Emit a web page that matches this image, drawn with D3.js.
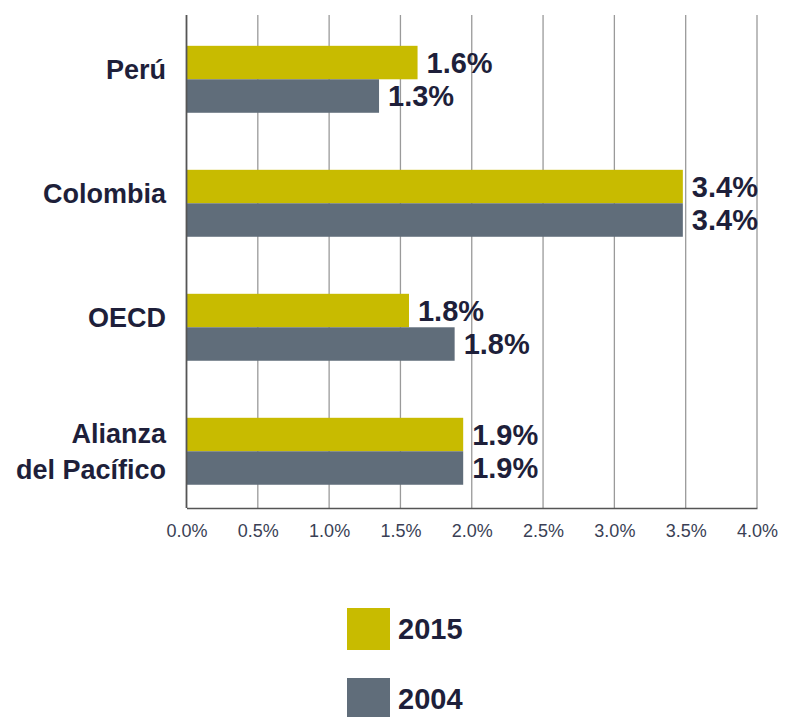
<!DOCTYPE html>
<html>
<head>
<meta charset="utf-8">
<script src="https://cdn.jsdelivr.net/npm/d3@7"></script>
<style>
  body { margin: 0; background: #fff; }
  text { font-family: "Liberation Sans", Arial, sans-serif; }
</style>
</head>
<body>
<div id="chart"></div>
<script>
const WIDTH = 788;
const HEIGHT = 717;

// data
const categories = ["Perú", "Colombia", "OECD", "Alianza del Pacífico"];
const categoryLines = [["Perú"], ["Colombia"], ["OECD"], ["Alianza", "del Pacífico"]];
const series = ["2015", "2004"];
const values2015 = [1.62, 3.48, 1.56, 1.94];
const values2004 = [1.35, 3.48, 1.88, 1.94];
const labels2015 = ["1.6%", "3.4%", "1.8%", "1.9%"];
const labels2004 = ["1.3%", "3.4%", "1.8%", "1.9%"];
const tickValues = [0, 0.5, 1, 1.5, 2, 2.5, 3, 3.5, 4];
const colors = { "2015": "#c8bb00", "2004": "#606d7a" };

const rows = categories.map((c, i) => ({
    cat: c,
    lines: categoryLines[i],
    bars: [
        { key: "2015", value: values2015[i], label: labels2015[i] },
        { key: "2004", value: values2004[i], label: labels2004[i] }
    ]
}));

const svg = d3.select("#chart").append("svg")
    .attr("width", WIDTH)
    .attr("height", HEIGHT);

const plotTop = 15, plotBottom = 508, plotLeft = 186.5, plotRight = 757;

const x = d3.scaleLinear().domain([0, 4]).range([plotLeft, plotRight]);
const y = d3.scaleBand().domain(categories).range([plotTop, plotBottom])
    .paddingInner(0.46).paddingOuter(0.218).align(0.57);
const ySub = d3.scaleBand().domain(series).range([0, y.bandwidth()]);

// gridlines
svg.append("g")
    .selectAll("line")
    .data(tickValues.slice(1))
    .enter().append("line")
    .attr("x1", d => x(d)).attr("x2", d => x(d))
    .attr("y1", plotTop).attr("y2", plotBottom)
    .attr("stroke", "#9a9a9a")
    .attr("stroke-width", 1.3);

// bottom axis
const xAxis = svg.append("g")
    .attr("transform", `translate(0,${plotBottom})`)
    .call(d3.axisBottom(x).tickValues(tickValues).tickSize(0)
        .tickFormat(d => d3.format(".1f")(d) + "%"));
xAxis.select(".domain").attr("stroke", "#555").attr("stroke-width", 1.5);
xAxis.selectAll("text")
    .attr("dy", "0")
    .attr("y", 29)
    .attr("fill", "#3a3f55")
    .style("font-size", "18px")
    .style("font-family", "\"Liberation Sans Narrow\", \"Liberation Sans\", Arial, sans-serif");

// groups
const groups = svg.append("g")
    .selectAll("g")
    .data(rows)
    .enter().append("g")
    .attr("transform", d => `translate(0,${y(d.cat)})`);

groups.selectAll("rect")
    .data(d => d.bars)
    .enter().append("rect")
    .attr("x", x(0))
    .attr("y", d => ySub(d.key))
    .attr("width", d => x(d.value) - x(0))
    .attr("height", ySub.bandwidth())
    .attr("fill", d => colors[d.key]);

groups.selectAll("text.val")
    .data(d => d.bars)
    .enter().append("text")
    .attr("class", "val")
    .attr("x", d => x(d.value) + 9)
    .attr("y", d => ySub(d.key) + ySub.bandwidth() / 2)
    .attr("dy", "0.36em")
    .attr("fill", "#1e1f3a")
    .style("font-size", "29px")
    .style("font-weight", "bold")
    .text(d => d.label);

// category labels
groups.append("text")
    .attr("text-anchor", "end")
    .attr("x", 166)
    .attr("fill", "#1e1f3a")
    .style("font-size", "27px")
    .style("font-weight", "bold")
    .each(function(d) {
        const n = d.lines.length;
        const c = y.bandwidth() / 2 - (n === 1 ? 10 : 0);
        d3.select(this).selectAll("tspan")
            .data(d.lines)
            .enter().append("tspan")
            .attr("x", 166)
            .attr("y", (l, i) => c + (i - (n - 1) / 2) * 36)
            .attr("dy", "0.36em")
            .text(l => l);
    });

// left axis line
svg.append("line")
    .attr("x1", plotLeft).attr("x2", plotLeft)
    .attr("y1", plotTop).attr("y2", plotBottom)
    .attr("stroke", "#555")
    .attr("stroke-width", 1.8);

// legend
const legend = svg.append("g")
    .selectAll("g")
    .data(series)
    .enter().append("g")
    .attr("transform", (d, i) => `translate(347,${608 + i * 70})`);

legend.append("rect")
    .attr("width", 43)
    .attr("height", 42)
    .attr("fill", d => colors[d]);

legend.append("text")
    .attr("x", 51)
    .attr("y", 21)
    .attr("dy", "0.36em")
    .attr("fill", "#1e1f3a")
    .style("font-size", "29px")
    .style("font-weight", "bold")
    .text(d => d);
</script>
</body>
</html>
